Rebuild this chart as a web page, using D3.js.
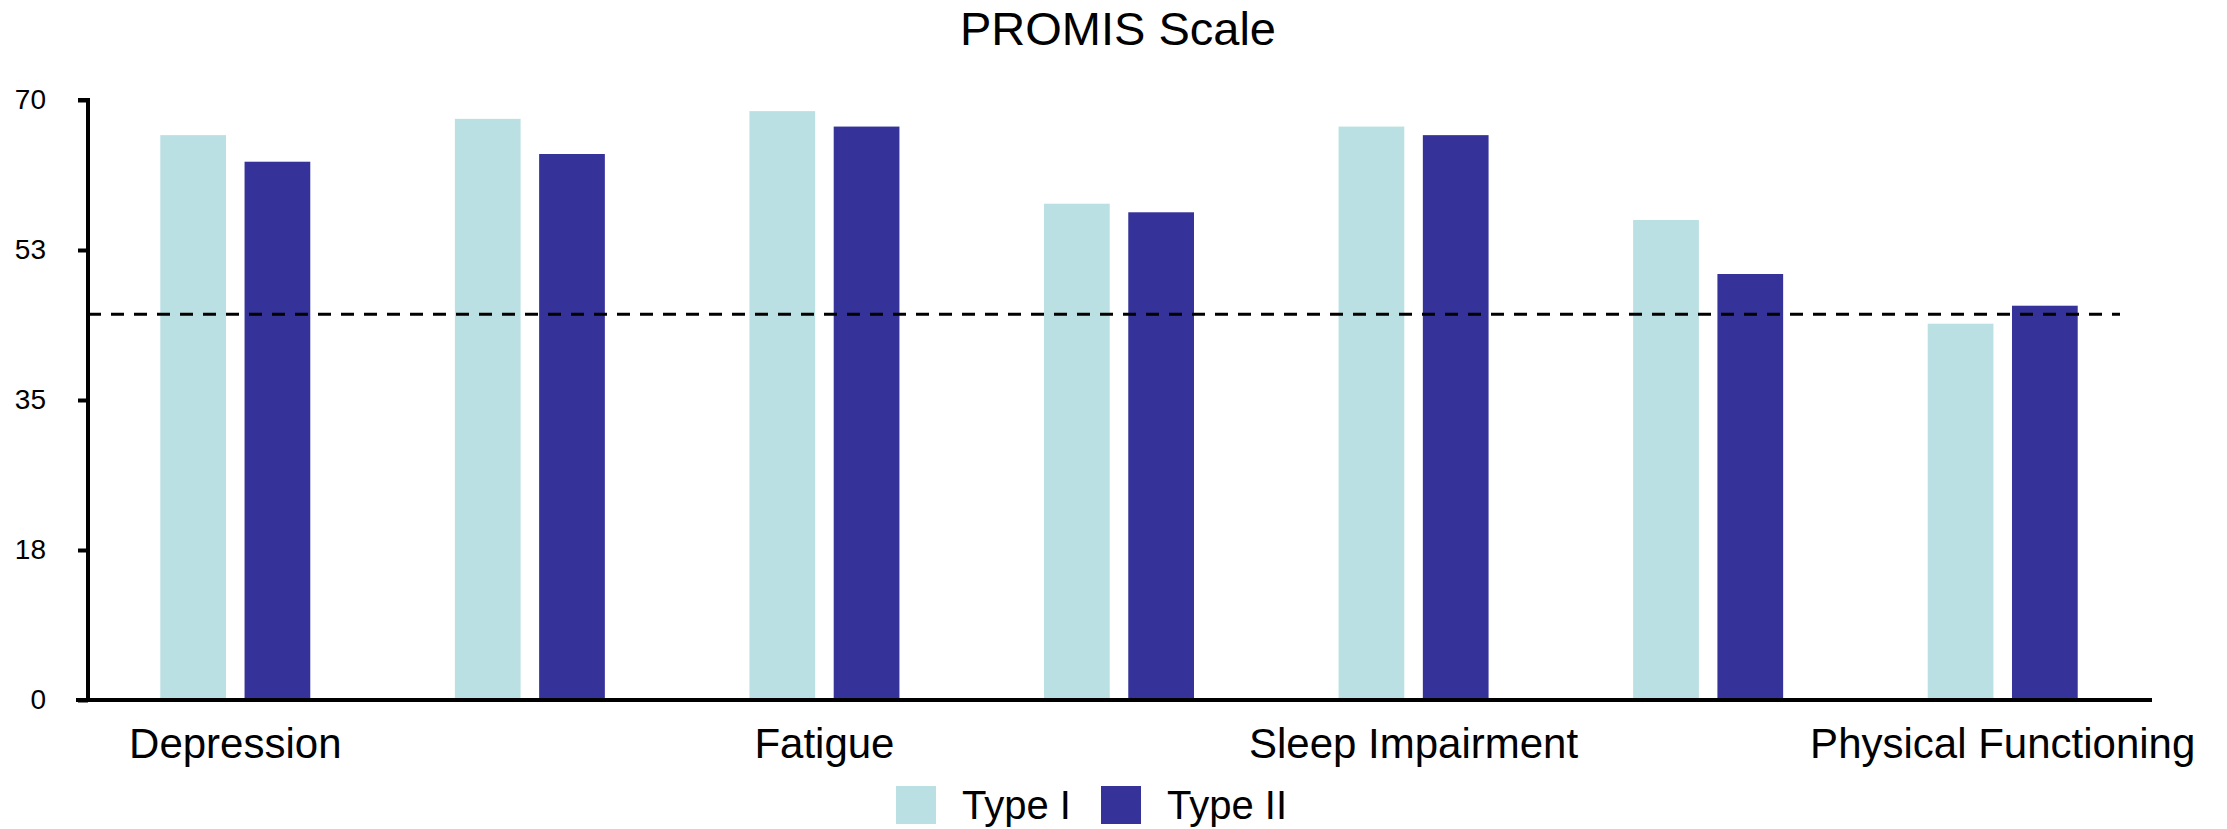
<!DOCTYPE html>
<html>
<head>
<meta charset="utf-8">
<script src="https://cdn.jsdelivr.net/npm/d3@7"></script>
<style>
html,body{margin:0;padding:0;background:#fff;}
svg{display:block;font-family:"Liberation Sans",Arial,sans-serif;}
</style>
</head>
<body>
<svg id="chart" width="2227" height="829"></svg>
<script>
// Data
const categories = ["Depression","Anxiety","Fatigue","Pain Interference","Sleep Impairment","Social Roles","Physical Functioning"];
const shownLabels = [true,false,true,false,true,false,true];
const seriesNames = ["Type I","Type II"];
const typeI  = [65.9, 67.8, 68.7, 57.9, 66.9, 56.0, 43.9];
const typeII = [62.8, 63.7, 66.9, 56.9, 65.9, 49.7, 46.0];
const referenceValue = 45;
const yTicks = [0, 17.5, 35, 52.5, 70];
const chartTitle = "PROMIS Scale";
const colors = ["#bae0e3", "#353399"];

(function () {
const svg = d3.select("#chart");
const mLeft = 88, mRight = 2150, mTop = 100, mBottom = 700;

const x0 = d3.scaleBand().domain(categories).range([mLeft, mRight]).padding(0);
const y = d3.scaleLinear().domain([0, 70]).range([mBottom, mTop]);

const seriesData = [typeI, typeII];

// bars
categories.forEach((c, i) => {
  const center = x0(c) + x0.bandwidth() / 2;
  const x1 = d3.scaleBand().domain(seriesNames).range([center - 75, center + 75]).paddingInner(0.22);
  svg.append("g").selectAll("rect")
    .data(seriesNames.map((s, j) => ({s, j, v: seriesData[j][i]})))
    .join("rect")
    .attr("x", d => x1(d.s))
    .attr("width", x1.bandwidth())
    .attr("y", d => y(d.v))
    .attr("height", d => y(0) - y(d.v))
    .attr("fill", d => colors[d.j]);
});

// reference dashed line
svg.append("line")
  .attr("x1", mLeft).attr("x2", 2120)
  .attr("y1", y(referenceValue)).attr("y2", y(referenceValue))
  .attr("stroke", "#000").attr("stroke-width", 3)
  .attr("stroke-dasharray", "13,10");

// y axis
const yAxis = d3.axisLeft(y).tickValues(yTicks).tickFormat(d3.format(".0f")).tickSize(10).tickPadding(32);
const gy = svg.append("g").attr("transform", `translate(${mLeft},0)`).call(yAxis);
gy.select(".domain").attr("stroke", "#000").attr("stroke-width", 4).attr("d", `M-10,${mTop}H0V${mBottom + 2}`);
gy.selectAll(".tick line").attr("stroke", "#000").attr("stroke-width", 4);
gy.selectAll(".tick text").attr("font-size", 28).attr("fill", "#000")
  .attr("font-family", "'Liberation Sans', Arial, sans-serif");

// x axis
const xAxis = d3.axisBottom(x0).tickSize(0).tickPadding(0)
  .tickFormat((d, i) => shownLabels[i] ? d : "");
const gx = svg.append("g").attr("transform", `translate(0,${mBottom})`).call(xAxis);
gx.select(".domain").attr("stroke", "#000").attr("stroke-width", 4).attr("d", `M${mLeft - 12},0H2152`);
gx.selectAll(".tick text").attr("font-size", 42).attr("fill", "#000")
  .attr("font-family", "'Liberation Sans', Arial, sans-serif")
  .attr("dy", null).attr("y", 58);

// title
svg.append("text").attr("x", 1118).attr("y", 45).attr("text-anchor", "middle")
  .attr("font-size", 47).attr("fill", "#000").text(chartTitle);

// legend
const legendItems = [
  {name: seriesNames[0], color: colors[0], x: 896, tx: 962},
  {name: seriesNames[1], color: colors[1], x: 1101, tx: 1167}
];
const lg = svg.append("g");
lg.selectAll("rect").data(legendItems).join("rect")
  .attr("x", d => d.x).attr("y", 786).attr("width", 40).attr("height", 38)
  .attr("fill", d => d.color);
lg.selectAll("text").data(legendItems).join("text")
  .attr("x", d => d.tx).attr("y", 819).attr("font-size", 40).attr("fill", "#000")
  .text(d => d.name);
})();
</script>
</body>
</html>
